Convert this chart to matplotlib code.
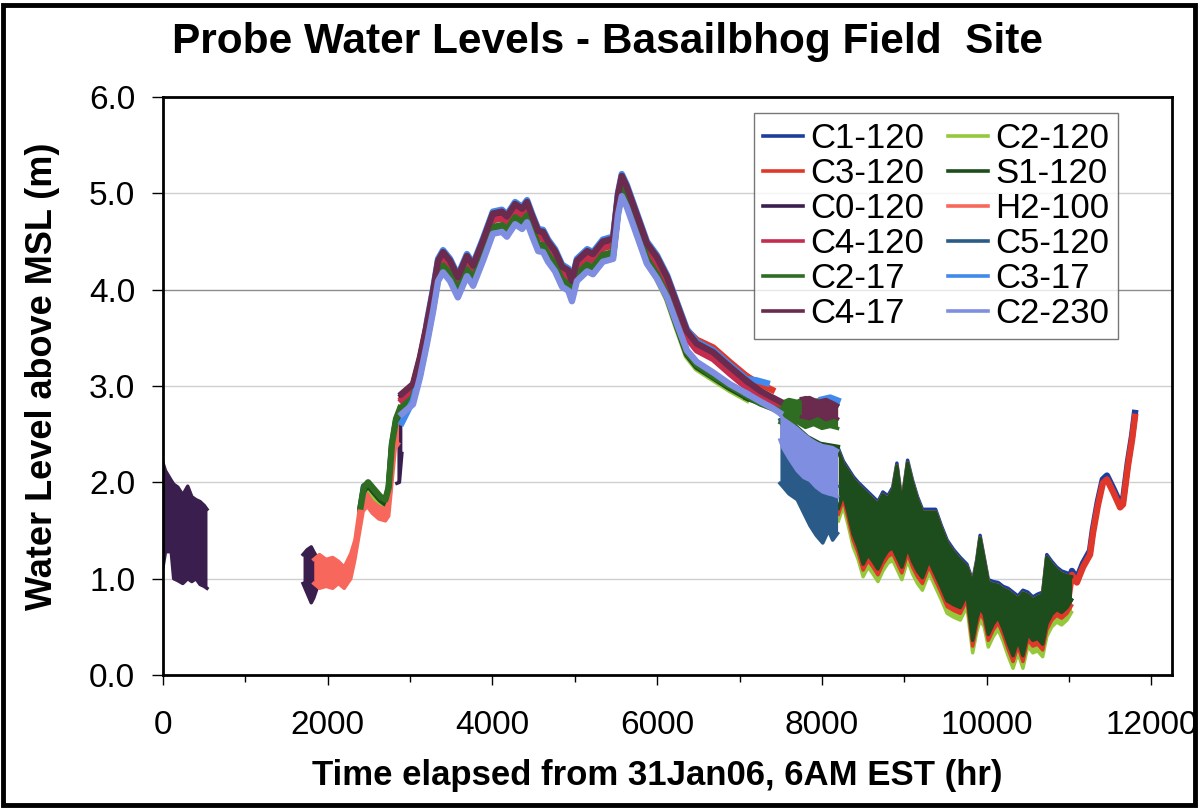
import matplotlib
matplotlib.use("Agg")
import matplotlib.pyplot as plt
from matplotlib.patches import Rectangle
from matplotlib.lines import Line2D
from matplotlib.ticker import MultipleLocator, FormatStrFormatter

plt.rcParams['font.family'] = ['Liberation Sans', 'DejaVu Sans']

# ---------------- data (hr, m) ----------------
NAMES = ["C1-120", "C2-120", "C3-120", "S1-120", "C0-120", "H2-100",
         "C4-120", "C5-120", "C2-17", "C3-17", "C4-17", "C2-230"]
COLORS = ["#1c3f9e", "#96c83c", "#e0372b", "#1d4d1d", "#3a1f4e", "#f7675c",
          "#c42d4d", "#2a5b88", "#2f6e22", "#4189ec", "#6a2b4e", "#7f8ee0"]

# C0-120 early records (noisy band)
C0_T1 = [0, 30, 100, 130, 180, 240, 300, 350, 400, 450, 500, 534]
C0_LO1 = [1.12, 1.28, 1.28, 1.00, 0.98, 0.95, 1.00, 0.97, 1.00, 0.94, 0.92, 0.90]
C0_HI1 = [2.20, 2.12, 2.02, 1.98, 1.95, 1.87, 1.96, 1.85, 1.82, 1.80, 1.76, 1.72]
C0_T2 = [1700, 1750, 1800, 1830, 1870, 1906]
C0_LO2 = [0.95, 0.85, 0.75, 0.80, 0.90, 0.95]
C0_HI2 = [1.25, 1.30, 1.33, 1.28, 1.22, 1.15]
C0_T3 = [2840, 2870, 2900]
C0_LO3 = [1.99, 2.00, 2.30]
C0_HI3 = [2.55, 2.60, 2.62]

# H2-100
H2_T = [1830, 1900, 1980, 2060, 2130, 2200, 2280, 2330, 2380, 2430, 2480,
        2540, 2620, 2700, 2740, 2780, 2820, 2860]
H2_LO = [0.95, 0.90, 0.92, 0.90, 0.95, 0.90, 1.00, 1.20, 1.45, 1.70, 1.75,
         1.68, 1.62, 1.60, 1.65, 2.00, 2.35, 2.40]
H2_HI = [1.20, 1.25, 1.20, 1.22, 1.18, 1.12, 1.26, 1.40, 1.70, 1.85, 1.88,
         1.80, 1.75, 1.72, 1.80, 2.30, 2.60, 2.62]

# early rise of the deeper probes
T_EARLY = [2400, 2440, 2490, 2560, 2640, 2700, 2740, 2780, 2830, 2880]
C1_EARLY = [1.74, 1.96, 1.98, 1.91, 1.84, 1.80, 1.93, 2.38, 2.64, 2.75]
C2_120_EARLY = [1.68, 1.86, 1.92, 1.85, 1.76, 1.70, 1.85, 2.30, 2.58, 2.72]
S1_EARLY = [1.72, 1.92, 1.97, 1.90, 1.82, 1.78, 1.90, 2.35, 2.62, 2.74]
C2_17_EARLY = [1.75, 1.95, 2.00, 1.93, 1.85, 1.82, 1.95, 2.40, 2.66, 2.77]

# main monsoon bundle
T_MAIN = [2900, 3035, 3120, 3205, 3280, 3340, 3400, 3485, 3580, 3690, 3765,
          3885, 4005, 4115, 4175, 4275, 4360, 4420, 4480, 4555, 4615, 4675,
          4760, 4845, 4920, 4965, 5025, 5150, 5220, 5340, 5465, 5525, 5570,
          5630, 5705, 5875, 5995, 6120, 6240, 6360, 6480, 6680, 6880, 7090]
C3_17_MAIN = [2.62, 2.85, 3.12, 3.67, 4.01, 4.32, 4.41, 4.32, 4.15, 4.37, 4.27,
              4.53, 4.81, 4.83, 4.78, 4.91, 4.86, 4.93, 4.79, 4.63, 4.62, 4.52,
              4.42, 4.26, 4.22, 4.11, 4.32, 4.42, 4.39, 4.52, 4.55, 5.01, 5.20,
              5.09, 4.91, 4.50, 4.36, 4.15, 3.87, 3.59, 3.46, 3.37, 3.22, 3.07]
C4_17_MAIN = [2.92, 3.02, 3.30, 3.65, 3.99, 4.30, 4.39, 4.30, 4.13, 4.35, 4.25,
              4.51, 4.79, 4.81, 4.76, 4.89, 4.84, 4.91, 4.77, 4.61, 4.60, 4.50,
              4.40, 4.24, 4.20, 4.09, 4.30, 4.40, 4.37, 4.50, 4.53, 4.99, 5.18,
              5.07, 4.89, 4.48, 4.34, 4.13, 3.85, 3.57, 3.44, 3.35, 3.20, 3.05]
C0_MAIN = [2.90, 3.00, 3.28, 3.63, 3.97, 4.28, 4.37, 4.28, 4.11, 4.33, 4.23,
           4.49, 4.77, 4.79, 4.74, 4.87, 4.82, 4.89, 4.75, 4.59, 4.58, 4.48,
           4.38, 4.22, 4.18, 4.07, 4.28, 4.38, 4.35, 4.48, 4.51, 4.97, 5.16,
           5.05, 4.87, 4.46, 4.32, 4.11, 3.83, 3.55, 3.42, 3.33, 3.18, 3.03]
C3_120_MAIN = [2.87, 2.97, 3.25, 3.60, 3.94, 4.25, 4.34, 4.25, 4.08, 4.30, 4.20,
               4.46, 4.74, 4.76, 4.71, 4.84, 4.79, 4.86, 4.72, 4.56, 4.55, 4.45,
               4.35, 4.19, 4.15, 4.04, 4.25, 4.35, 4.32, 4.45, 4.48, 4.94, 5.13,
               5.02, 4.84, 4.43, 4.29, 4.08, 3.80, 3.58, 3.48, 3.40, 3.25, 3.10]
C4_120_MAIN = [2.85, 2.95, 3.23, 3.58, 3.92, 4.23, 4.32, 4.23, 4.06, 4.28, 4.18,
               4.44, 4.72, 4.74, 4.69, 4.82, 4.77, 4.84, 4.70, 4.54, 4.53, 4.43,
               4.33, 4.17, 4.13, 4.02, 4.23, 4.33, 4.30, 4.43, 4.46, 4.92, 5.11,
               5.00, 4.82, 4.41, 4.27, 4.06, 3.78, 3.50, 3.37, 3.28, 3.13, 2.98]
C2_17_MAIN = [2.78, 2.88, 3.16, 3.51, 3.85, 4.16, 4.25, 4.16, 3.99, 4.21, 4.11,
              4.37, 4.65, 4.67, 4.62, 4.75, 4.70, 4.77, 4.63, 4.47, 4.46, 4.36,
              4.26, 4.10, 4.06, 3.95, 4.16, 4.26, 4.23, 4.36, 4.39, 4.85, 5.04,
              4.93, 4.75, 4.32, 4.16, 3.94, 3.64, 3.35, 3.22, 3.10, 3.00, 2.90]
S1_MAIN = [2.76, 2.86, 3.14, 3.49, 3.83, 4.14, 4.23, 4.14, 3.97, 4.19, 4.09,
           4.35, 4.63, 4.65, 4.60, 4.73, 4.68, 4.75, 4.61, 4.45, 4.44, 4.34,
           4.24, 4.08, 4.04, 3.93, 4.14, 4.24, 4.21, 4.34, 4.37, 4.83, 5.02,
           4.91, 4.73, 4.30, 4.14, 3.92, 3.62, 3.33, 3.20, 3.09, 2.98, 2.88]
C2_120_MAIN = [2.74, 2.84, 3.12, 3.47, 3.81, 4.12, 4.21, 4.12, 3.95, 4.17, 4.07,
               4.33, 4.61, 4.63, 4.58, 4.71, 4.66, 4.73, 4.59, 4.43, 4.42, 4.32,
               4.22, 4.06, 4.02, 3.91, 4.12, 4.22, 4.19, 4.32, 4.35, 4.81, 5.00,
               4.89, 4.71, 4.28, 4.12, 3.90, 3.60, 3.31, 3.18, 3.07, 2.96, 2.86]
C1_MAIN = [2.75, 2.85, 3.13, 3.48, 3.82, 4.13, 4.22, 4.13, 3.96, 4.18, 4.08,
           4.34, 4.62, 4.64, 4.59, 4.72, 4.67, 4.74, 4.60, 4.44, 4.43, 4.33,
           4.23, 4.07, 4.03, 3.92, 4.13, 4.23, 4.20, 4.33, 4.36, 4.82, 5.01,
           4.90, 4.72, 4.31, 4.15, 3.93, 3.63, 3.36, 3.24, 3.13, 3.01, 2.90]
C2_230_MAIN = [2.71, 2.81, 3.09, 3.44, 3.78, 4.09, 4.18, 4.09, 3.92, 4.14, 4.04,
               4.30, 4.58, 4.60, 4.55, 4.68, 4.63, 4.70, 4.56, 4.40, 4.39, 4.29,
               4.19, 4.03, 3.99, 3.88, 4.09, 4.19, 4.16, 4.29, 4.32, 4.78, 4.97,
               4.86, 4.68, 4.27, 4.12, 3.92, 3.64, 3.37, 3.25, 3.14, 3.02, 2.92]

# tails after the bundle splits
C3_17_TAIL_T = [7090, 7200, 7330]
C3_17_TAIL = [3.07, 3.06, 3.03]
C3_17_BIT_T = [8000, 8100, 8190]
C3_17_BIT = [2.86, 2.88, 2.85]
C3_120_TAIL_T = [7090, 7250, 7395]
C3_120_TAIL = [3.10, 3.02, 2.96]
C4_120_TAIL_T = [7090, 7250, 7400, 7490]
C4_120_TAIL = [2.98, 2.90, 2.84, 2.80]
C4_17_TAIL_T = [7090, 7250, 7400, 7490]
C4_17_TAIL = [3.05, 2.95, 2.88, 2.84]
C2_17_TAIL_T = [7090, 7250, 7400, 7490]
C2_17_TAIL = [2.90, 2.82, 2.77, 2.74]
S1_TAIL_T = [7090, 7330, 7490, 7650, 7820, 7975, 8180]
S1_TAIL = [2.88, 2.80, 2.74, 2.59, 2.46, 2.39, 2.36]
C2_230_TAIL_T = [7090, 7250, 7400, 7490]
C2_230_TAIL = [2.92, 2.84, 2.77, 2.72]

# plateau / drop around 7500-8200 hr
T_PLAT = [7490, 7600, 7700, 7800, 7900, 8000, 8100, 8190]
C2_17_PLAT_LO = [2.62, 2.58, 2.62, 2.57, 2.60, 2.56, 2.58, 2.56]
C2_17_PLAT_HI = [2.82, 2.86, 2.84, 2.88, 2.85, 2.86, 2.84, 2.80]
T_PLAT2 = [7750, 7850, 7950, 8050, 8150, 8190]
C4_17_PLAT_LO = [2.68, 2.66, 2.70, 2.65, 2.68, 2.66]
C4_17_PLAT_HI = [2.87, 2.88, 2.84, 2.86, 2.82, 2.80]
T_DROP = [7490, 7530, 7600, 7700, 7780, 7855, 7930, 8010, 8080, 8130, 8190]
C5_DROP_LO = [1.99, 1.95, 1.88, 1.82, 1.68, 1.55, 1.45, 1.37, 1.50, 1.40, 1.47]
C5_DROP_HI = [2.65, 2.58, 2.50, 2.42, 2.34, 2.26, 2.18, 2.10, 2.04, 2.00, 1.96]
C2_230_DROP_LO = [2.44, 2.35, 2.25, 2.12, 2.05, 2.02, 1.95, 1.90, 1.88, 1.87, 1.85]
C2_230_DROP_HI = [2.70, 2.66, 2.62, 2.56, 2.50, 2.45, 2.41, 2.38, 2.37, 2.36, 2.33]

# dry season, tidal band
LATE_T = [8200, 8260, 8320, 8380, 8440, 8500, 8560, 8620, 8680, 8740, 8800,
          8860, 8910, 8970, 9040, 9100, 9160, 9220, 9300, 9380, 9450, 9520,
          9600, 9680, 9760, 9830, 9880, 9920, 9970, 10020, 10080, 10140, 10200,
          10260, 10320, 10380, 10440, 10500, 10560, 10620, 10680, 10730, 10790,
          10850, 10910, 10975, 11030]
LATE_C1_HI = [2.35, 2.22, 2.14, 2.06, 2.00, 1.95, 1.90, 1.85, 1.80, 1.90, 1.86,
              1.95, 2.20, 1.80, 2.23, 2.02, 1.85, 1.72, 1.72, 1.72, 1.55, 1.40,
              1.30, 1.22, 1.15, 0.98, 1.20, 1.45, 1.22, 0.99, 0.97, 0.96, 0.92,
              0.90, 0.86, 0.82, 0.88, 0.86, 0.81, 0.84, 0.86, 1.25, 1.18, 1.12,
              1.08, 1.06, 1.05]
LATE_S1_HI = [2.32, 2.19, 2.11, 2.03, 1.97, 1.92, 1.87, 1.82, 1.77, 1.87, 1.83,
              1.92, 2.17, 1.77, 2.20, 1.99, 1.82, 1.69, 1.69, 1.69, 1.52, 1.37,
              1.27, 1.19, 1.12, 0.95, 1.17, 1.42, 1.19, 0.96, 0.94, 0.93, 0.89,
              0.87, 0.83, 0.79, 0.85, 0.83, 0.78, 0.81, 0.83, 1.22, 1.15, 1.09,
              1.05, 1.03, 1.02]
LATE_C2_LO = [1.60, 1.75, 1.55, 1.33, 1.20, 1.02, 1.12, 1.05, 0.97, 1.08, 1.16,
              1.19, 1.10, 0.99, 1.19, 1.05, 0.95, 0.88, 1.06, 0.91, 0.78, 0.64,
              0.60, 0.57, 0.71, 0.23, 0.45, 0.57, 0.50, 0.29, 0.40, 0.47, 0.35,
              0.20, 0.07, 0.23, 0.07, 0.30, 0.23, 0.25, 0.19, 0.40, 0.50, 0.55,
              0.52, 0.57, 0.65]
LATE_C3_LO = [1.67, 1.82, 1.62, 1.40, 1.27, 1.09, 1.19, 1.12, 1.04, 1.15, 1.23,
              1.26, 1.17, 1.06, 1.26, 1.12, 1.02, 0.95, 1.13, 0.98, 0.85, 0.71,
              0.67, 0.64, 0.78, 0.30, 0.52, 0.64, 0.57, 0.36, 0.47, 0.54, 0.42,
              0.27, 0.14, 0.30, 0.14, 0.37, 0.30, 0.32, 0.26, 0.47, 0.57, 0.62,
              0.59, 0.64, 0.72]
LATE_S1_LO = [1.73, 1.88, 1.68, 1.46, 1.33, 1.15, 1.25, 1.18, 1.10, 1.21, 1.29,
              1.32, 1.23, 1.12, 1.32, 1.18, 1.08, 1.01, 1.19, 1.04, 0.91, 0.77,
              0.73, 0.70, 0.84, 0.36, 0.58, 0.70, 0.63, 0.42, 0.53, 0.60, 0.48,
              0.33, 0.20, 0.36, 0.20, 0.43, 0.36, 0.38, 0.32, 0.53, 0.63, 0.68,
              0.65, 0.70, 0.78]

# final rise
T_RISE = [10975, 11035, 11095, 11170, 11255, 11290, 11350, 11410, 11460,
          11535, 11620, 11655, 11715, 11765, 11800]
C3_RISE = [0.70, 1.04, 0.96, 1.12, 1.25, 1.47, 1.76, 1.99, 2.03, 1.90, 1.74,
           1.77, 2.17, 2.44, 2.68]
C1_RISE = [0.84, 1.08, 1.00, 1.16, 1.29, 1.51, 1.80, 2.03, 2.07, 1.94, 1.78,
           1.81, 2.21, 2.48, 2.72]

# ---------------- segments per series ----------------
SEGMENTS = {
    "C1-120": [("line", T_EARLY, C1_EARLY), ("line", T_MAIN, C1_MAIN),
               ("band", LATE_T, LATE_S1_LO, LATE_C1_HI), ("line", T_RISE, C1_RISE)],
    "C2-120": [("line", T_EARLY, C2_120_EARLY), ("line", T_MAIN, C2_120_MAIN),
               ("band", LATE_T, LATE_C2_LO, LATE_S1_HI)],
    "C3-120": [("line", T_MAIN, C3_120_MAIN), ("line", C3_120_TAIL_T, C3_120_TAIL),
               ("band", LATE_T, LATE_C3_LO, LATE_S1_HI), ("line", T_RISE, C3_RISE)],
    "S1-120": [("line", T_EARLY, S1_EARLY), ("line", T_MAIN, S1_MAIN),
               ("line", S1_TAIL_T, S1_TAIL), ("band", LATE_T, LATE_S1_LO, LATE_S1_HI)],
    "C0-120": [("band", C0_T1, C0_LO1, C0_HI1), ("band", C0_T2, C0_LO2, C0_HI2),
               ("band", C0_T3, C0_LO3, C0_HI3), ("line", T_MAIN, C0_MAIN)],
    "H2-100": [("band", H2_T, H2_LO, H2_HI)],
    "C4-120": [("line", T_MAIN, C4_120_MAIN), ("line", C4_120_TAIL_T, C4_120_TAIL)],
    "C5-120": [("band", T_DROP, C5_DROP_LO, C5_DROP_HI)],
    "C2-17": [("line", T_EARLY, C2_17_EARLY), ("line", T_MAIN, C2_17_MAIN),
              ("line", C2_17_TAIL_T, C2_17_TAIL), ("band", T_PLAT, C2_17_PLAT_LO, C2_17_PLAT_HI)],
    "C3-17": [("line", T_MAIN, C3_17_MAIN), ("line", C3_17_TAIL_T, C3_17_TAIL),
              ("line", C3_17_BIT_T, C3_17_BIT)],
    "C4-17": [("line", T_MAIN, C4_17_MAIN), ("line", C4_17_TAIL_T, C4_17_TAIL),
              ("band", T_PLAT2, C4_17_PLAT_LO, C4_17_PLAT_HI)],
    "C2-230": [("line", T_MAIN, C2_230_MAIN), ("line", C2_230_TAIL_T, C2_230_TAIL),
               ("band", T_DROP, C2_230_DROP_LO, C2_230_DROP_HI)],
}

# ---------------- figure ----------------
fig = plt.figure(figsize=(11.99, 8.09), dpi=100)
W, H = 1199, 809
ax = fig.add_axes([163 / W, 1 - 675 / H, 1009 / W, 578 / H])

LW = 4.6
handles = []
for z, (name, color) in enumerate(zip(NAMES, COLORS)):
    for seg in SEGMENTS[name]:
        if seg[0] == "line":
            ax.plot(seg[1], seg[2], color=color, lw=LW, zorder=3 + z,
                    solid_joinstyle="round")
        else:
            ax.fill_between(seg[1], seg[2], seg[3], color=color, lw=0, zorder=3 + z)
            ax.plot(seg[1], seg[2], color=color, lw=2.5, zorder=3 + z)
            ax.plot(seg[1], seg[3], color=color, lw=2.5, zorder=3 + z)
    handles.append(Line2D([], [], color=color, lw=2.6))

ax.set_xlim(0, 12250)
ax.set_ylim(0, 6)
ax.yaxis.set_major_locator(MultipleLocator(1))
ax.yaxis.set_major_formatter(FormatStrFormatter("%.1f"))
ax.xaxis.set_major_locator(MultipleLocator(2000))
ax.xaxis.set_minor_locator(MultipleLocator(1000))
ax.tick_params(axis="y", direction="out", length=8, width=1, labelsize=24, pad=12)
ax.tick_params(axis="x", which="major", direction="out", length=7, width=1,
               labelsize=24, pad=18)
ax.tick_params(axis="x", which="minor", direction="out", length=5, width=1)

for y in [1, 2, 3, 5]:
    ax.axhline(y, color="#cfcfcf", lw=1, zorder=1)
ax.axhline(4, color="#8c8c8c", lw=1, zorder=1)

for s in ax.spines.values():
    s.set_linewidth(2)
    s.set_color("black")
    s.set_zorder(30)

order = [0, 2, 4, 6, 8, 10, 1, 3, 5, 7, 9, 11]
leg = ax.legend([handles[i] for i in order], [NAMES[i] for i in order],
                ncol=2, loc="upper right", bbox_to_anchor=(0.9465, 0.972),
                borderaxespad=0, fontsize=25, frameon=True, fancybox=False,
                edgecolor="#555555", handlelength=1.15, handletextpad=0.2,
                labelspacing=0.06, columnspacing=0.7, borderpad=0.25)
leg.get_frame().set_linewidth(1)
leg.set_zorder(40)

fig.text(608 / W, 1 - 42 / H, "Probe Water Levels - Basailbhog Field  Site",
         ha="center", va="center", fontsize=30.5, fontweight="bold")
fig.text(657 / W, 1 - 775 / H, "Time elapsed from 31Jan06, 6AM EST (hr)",
         ha="center", va="center", fontsize=25, fontweight="bold")
fig.text(43 / W, 1 - 376 / H, "Water Level above MSL (m)", rotation=90,
         ha="center", va="center", fontsize=26, fontweight="bold")

fig.patches.append(Rectangle((3 / W, 4 / H), 1192 / W, 800 / H, transform=fig.transFigure,
                             fill=False, edgecolor="black", lw=3.5))

fig.savefig("out.png", dpi=100)
